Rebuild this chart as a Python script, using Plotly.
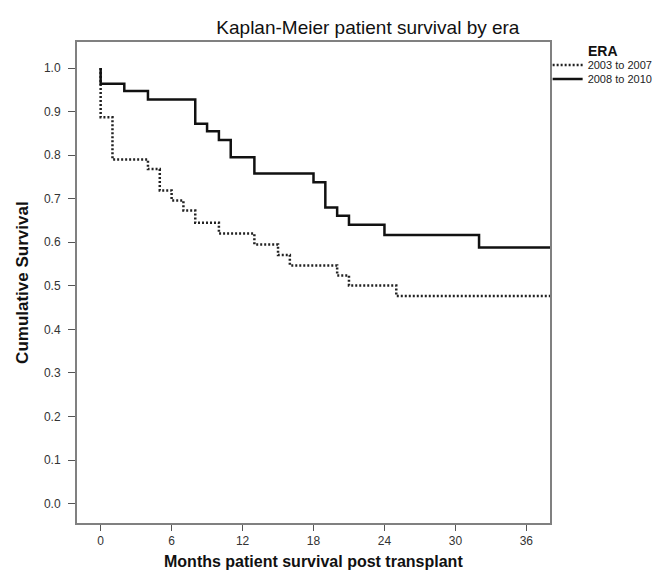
import plotly.graph_objects as go

# ---- data ----
era_labels = ["2003 to 2007", "2008 to 2010"]

months_2003 = [0, 0, 1, 4, 5, 6, 7, 8, 10, 13, 15, 16, 20, 21, 25, 38]
surv_2003 = [1.0, 0.887, 0.790, 0.768, 0.719, 0.696, 0.673, 0.645, 0.620,
             0.595, 0.571, 0.547, 0.524, 0.501, 0.477, 0.477]

months_2008 = [0, 0, 2, 4, 8, 9, 10, 11, 13, 18, 19, 20, 21, 24, 32, 38]
surv_2008 = [1.0, 0.964, 0.947, 0.928, 0.872, 0.855, 0.835, 0.795, 0.758,
             0.738, 0.680, 0.661, 0.640, 0.617, 0.588, 0.588]

x_ticks = [0, 6, 12, 18, 24, 30, 36]
y_ticks = [0.0, 0.1, 0.2, 0.3, 0.4, 0.5, 0.6, 0.7, 0.8, 0.9, 1.0]

FONT = "Liberation Sans, Arial, sans-serif"

# plot area geometry (pixels)
W, H = 662, 571
L, R, T, B = 69, 108, 34, 56
PW, PH = W - L - R, H - T - B


def px_x(p):
    return (p - L) / PW


def px_y(p):
    return (H - B - p) / PH


fig = go.Figure()
fig.add_trace(go.Scatter(
    x=months_2003, y=surv_2003, mode="lines", line_shape="hv",
    name=era_labels[0], legend="legend",
    line=dict(color="#222222", width=2.5, dash="2px,2px"),
))
fig.add_trace(go.Scatter(
    x=months_2008, y=surv_2008, mode="lines", line_shape="hv",
    name=era_labels[1], legend="legend2",
    line=dict(color="#111111", width=2.5),
))

axis_common = dict(
    showgrid=False, zeroline=False, showline=True, mirror=True,
    linecolor="#808080", linewidth=2,
    ticks="outside", tickwidth=1, tickcolor="#555555",
    tickfont=dict(family=FONT, size=12, color="#333333"),
)

legend_common = dict(
    x=0.995, xanchor="left", yanchor="middle",
    font=dict(family=FONT, size=11, color="#222222"),
    itemwidth=30, bgcolor="rgba(0,0,0,0)",
)

fig.update_layout(
    width=W, height=H,
    margin=dict(l=L, r=R, t=T, b=B),
    paper_bgcolor="white", plot_bgcolor="white",
    font=dict(family=FONT),
    title=dict(text="Kaplan-Meier patient survival by era",
               font=dict(family=FONT, size=19, color="#111111"),
               x=0.615, xref="paper", xanchor="center",
               y=1 - 19 / H, yref="container", yanchor="middle"),
    xaxis=dict(range=[-2, 38], tickvals=x_ticks, ticklen=6,
               ticklabelstandoff=0, **axis_common),
    yaxis=dict(range=[-0.0443, 1.0597], tickvals=y_ticks, tickformat=".1f",
               ticklen=7, ticklabelstandoff=5, **axis_common),
    legend=dict(y=px_y(57), **legend_common),
    legend2=dict(y=px_y(71), **legend_common),
    showlegend=True,
    annotations=[
        dict(text="<b>Months patient survival post transplant</b>",
             xref="paper", yref="paper", x=0.5, y=px_y(553),
             xanchor="center", yanchor="middle", showarrow=False,
             font=dict(family=FONT, size=16, color="#111111")),
        dict(text="<b>ERA</b>", xref="paper", yref="paper",
             x=px_x(608), y=px_y(43), xanchor="center", yanchor="middle",
             showarrow=False,
             font=dict(family=FONT, size=14, color="#111111")),
        dict(text="<b>Cumulative Survival</b>",
             xref="paper", yref="paper", x=px_x(13), y=0.5,
             xanchor="center", yanchor="middle", showarrow=False,
             textangle=-90,
             font=dict(family=FONT, size=17, color="#111111")),
    ],
)

fig.write_html("out.html")
